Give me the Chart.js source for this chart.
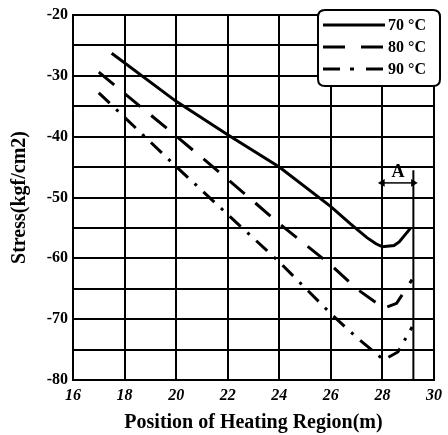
<!DOCTYPE html>
<html>
<head>
<meta charset="utf-8">
<script src="https://cdn.jsdelivr.net/npm/chart.js@4/dist/chart.umd.min.js"></script>
<style>
html,body{margin:0;padding:0;background:#fff;}
#c{display:block;}
</style>
</head>
<body>
<canvas id="c" width="448" height="435"></canvas>
<script>
// Data
const seriesNames = ['70 \u00B0C', '80 \u00B0C', '90 \u00B0C'];
const x70 = [17.5, 20, 22, 24, 26, 26.75, 27.4, 27.75, 28, 28.45, 28.65, 29.1];
const y70 = [-26.3, -34.2, -39.7, -45, -51.5, -54.3, -56.6, -57.6, -58.1, -57.9, -57.3, -55];
const x80 = [17, 20, 22, 24, 26, 27, 28.05, 28.55, 29.15];
const y80 = [-29.4, -39.9, -47.0, -54.3, -61.1, -65.0, -68.2, -67.4, -63.5];
const x90 = [17, 20, 22, 24, 26, 27, 28.05, 28.6, 29.15];
const y90 = [-32.8, -44.9, -52.8, -60.6, -69.1, -73.0, -76.7, -75.4, -71.3];
const xTicks = [16, 18, 20, 22, 24, 26, 28, 30];
const yTicks = [-80, -70, -60, -50, -40, -30, -20];
// Annotation "A": region between x=28 and x=29.2
const regionA = [28, 29.2];
const regionATop = -45.5;
const arrowY = -47.6;

const pts = (xs, ys) => xs.map((x, i) => ({x: x, y: ys[i]}));
const serif = '"Liberation Serif", "Times New Roman", serif';

const dashes = [[], [20, 14], [15, 9, 3, 9]];

const customPlugin = {
  id: 'custom',
  afterDatasetsDraw(chart) {
    const ctx = chart.ctx;
    const xs = chart.scales.x, ys = chart.scales.y;
    // label A
    ctx.save();
    ctx.fillStyle = '#000';
    ctx.font = 'bold 18px ' + serif;
    ctx.textAlign = 'center';
    ctx.textBaseline = 'alphabetic';
    ctx.fillText('A', xs.getPixelForValue((regionA[0] + regionA[1]) / 2), ys.getPixelForValue(-46.7));
    ctx.restore();

    // legend box
    const bx = 318, by = 10, bw = 122, bh = 76, r = 7;
    ctx.save();
    ctx.beginPath();
    ctx.moveTo(bx + r, by);
    ctx.lineTo(bx + bw - r, by);
    ctx.quadraticCurveTo(bx + bw, by, bx + bw, by + r);
    ctx.lineTo(bx + bw, by + bh - r);
    ctx.quadraticCurveTo(bx + bw, by + bh, bx + bw - r, by + bh);
    ctx.lineTo(bx + r, by + bh);
    ctx.quadraticCurveTo(bx, by + bh, bx, by + bh - r);
    ctx.lineTo(bx, by + r);
    ctx.quadraticCurveTo(bx, by, bx + r, by);
    ctx.closePath();
    ctx.fillStyle = '#fff';
    ctx.fill();
    ctx.lineWidth = 2;
    ctx.strokeStyle = '#000';
    ctx.stroke();
    const rows = [25, 47, 69];
    const legDash = [[], [22, 16], [17, 10, 4, 12]];
    ctx.font = 'bold 16px ' + serif;
    ctx.textBaseline = 'middle';
    ctx.textAlign = 'left';
    ctx.fillStyle = '#000';
    for (let i = 0; i < 3; i++) {
      ctx.beginPath();
      ctx.setLineDash(legDash[i]);
      ctx.lineWidth = 3;
      ctx.moveTo(323, rows[i]);
      ctx.lineTo(385, rows[i]);
      ctx.stroke();
      ctx.setLineDash([]);
      ctx.fillText(seriesNames[i], 388, rows[i] + 1);
    }
    ctx.restore();
  }
};

new Chart(document.getElementById('c'), {
  type: 'scatter',
  data: {
    datasets: [
      {label: seriesNames[0], data: pts(x70, y70), showLine: true, borderColor: '#000', borderWidth: 3, borderDash: dashes[0], pointRadius: 0, tension: 0},
      {label: seriesNames[1], data: pts(x80, y80), showLine: true, borderColor: '#000', borderWidth: 3, borderDash: dashes[1], pointRadius: 0, tension: 0},
      {label: seriesNames[2], data: pts(x90, y90), showLine: true, borderColor: '#000', borderWidth: 3, borderDash: dashes[2], pointRadius: 0, tension: 0},
      {label: 'A-line', data: [{x: regionA[1], y: regionATop}, {x: regionA[1], y: -80}], showLine: true, borderColor: '#000', borderWidth: 2, pointRadius: 0},
      {label: 'A-arrow', data: [{x: regionA[0], y: arrowY}, {x: regionA[1], y: arrowY}], showLine: true, borderColor: '#000', backgroundColor: '#000', borderWidth: 1.5,
       pointStyle: 'triangle', pointRadius: 3, pointRotation: [-90, 90]}
    ]
  },
  options: {
    responsive: false,
    animation: false,
    layout: {padding: {left: 0, right: 8, top: 15, bottom: 0}},
    plugins: {legend: {display: false}, tooltip: {enabled: false}},
    scales: {
      x: {
        type: 'linear', min: 16, max: 30,
        afterBuildTicks: (s) => { s.ticks = xTicks.map(v => ({value: v})); },
        afterFit: (s) => { s.height = 55; },
        grid: {color: '#000', lineWidth: 2, drawTicks: false},
        border: {color: '#000', width: 2},
        ticks: {color: '#000', padding: 6, font: {family: serif, size: 16, weight: 'bold', style: 'italic'}},
        title: {display: true, text: 'Position of Heating Region(m)', color: '#000', padding: {top: 0, bottom: 0}, font: {family: serif, size: 20, weight: 'bold'}}
      },
      y: {
        type: 'linear', min: -80, max: -20,
        ticks: {stepSize: 5, color: '#000', padding: 5, font: {family: serif, size: 16, weight: 'bold'},
          callback: (v) => (yTicks.includes(v) ? String(v) : '')},
        afterFit: (s) => { s.width = 73; },
        grid: {color: '#000', lineWidth: 2, drawTicks: false},
        border: {color: '#000', width: 2},
        title: {display: true, text: 'Stress(kgf/cm2)', color: '#000', padding: {top: 8, bottom: 0}, font: {family: serif, size: 20, weight: 'bold'}}
      }
    }
  },
  plugins: [customPlugin]
});
</script>
</body>
</html>
